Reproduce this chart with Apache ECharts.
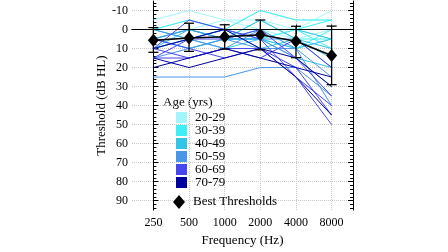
<!DOCTYPE html>
<html><head><meta charset="utf-8">
<script src="https://cdn.jsdelivr.net/npm/echarts@6/dist/echarts.min.js"></script>
<style>html,body{margin:0;padding:0;background:#fff}#c{width:448px;height:252px}</style>
</head><body><div id="c"></div>
<script>
const frequencies = ['250', '500', '1000', '2000', '4000', '8000'];
const ageGroups = ['20-29', '30-39', '40-49', '50-59', '60-69', '70-79'];
const age20 = [
  [-5, -10, -5, -5, 0, -10],
  [0, -5, 0, -10, -5, -5],
  [5, 0, 5, 0, 5, 0],
  [0, 5, 0, 5, 0, 5],
  [5, 0, -5, 0, 10, 5]
];
const age30 = [
  [0, -5, 0, -10, -5, -5],
  [5, 0, 5, 5, 10, 0],
  [10, 5, 0, 0, 0, 10],
  [0, 0, 5, -5, 5, 5],
  [5, 10, 5, 5, 0, -5]
];
const age40 = [
  [5, 0, 5, 0, 0, 5],
  [10, 5, 0, 10, 5, 15],
  [5, 10, 5, 5, 15, 20],
  [0, 5, 10, 5, 10, 5],
  [10, 0, 5, -5, 5, 10]
];
const age50 = [
  [25, 25, 25, 20, 20, 35],
  [10, 5, 10, 0, 10, 25],
  [5, 0, 5, 5, 15, 30],
  [15, 10, 5, 10, 10, 40],
  [0, 5, 0, 5, 5, 20]
];
const age60 = [
  [15, 15, 10, 10, 20, 45],
  [10, -5, 0, 5, 25, 50],
  [5, 10, 15, 10, 25, 40],
  [15, 5, 5, 0, 15, 35],
  [10, 15, 10, 15, 5, 20]
];
const age70 = [
  [20, 15, 10, 15, 20, 25],
  [10, 5, 0, 10, 15, 30],
  [15, 20, 15, 10, 25, 45]
];
const bestMean = [5.7, 4.5, 3.8, 2.8, 6.2, 13.7];
const bestLow = [-1, -3.3, -2.5, -5, -1.7, -1.8];
const bestHigh = [12, 11.5, 10.3, 10.7, 14.8, 29];
const yTickLabels = [-10, 0, 10, 20, 30, 40, 50, 60, 70, 80, 90];

const groupData = [age20, age30, age40, age50, age60, age70];
const groupColors = ['#a2f6fb', '#3ef0f5', '#33c4e8', '#4a96e6', '#4646f0', '#0000a0'];
const FONT = 'Liberation Serif';
const xIdx = frequencies.map((f, i) => i);
const yMinor = [];
for (let v = -14; v <= 94; v += 2) if (v % 10 !== 0) yMinor.push(v);

const series = [];
groupData.forEach((grp, g) => {
  grp.forEach(subj => {
    series.push({
      type: 'line', name: ageGroups[g], data: subj.map((v, i) => [i, v]),
      symbol: 'none', silent: true,
      lineStyle: { color: groupColors[g], width: 1 },
      itemStyle: { color: groupColors[g] },
      z: 2
    });
  });
});
series.push({
  type: 'custom', name: 'err', silent: true, z: 5,
  data: bestMean.map((m, i) => [i, bestLow[i], bestHigh[i]]),
  renderItem: function (params, api) {
    const x = api.coord([api.value(0), 0])[0];
    const y1 = api.coord([0, api.value(1)])[1];
    const y2 = api.coord([0, api.value(2)])[1];
    const st = { stroke: '#000', lineWidth: 1.3 };
    return { type: 'group', children: [
      { type: 'line', shape: { x1: x, y1: y1, x2: x, y2: y2 }, style: st },
      { type: 'line', shape: { x1: x - 5, y1: y1, x2: x + 5, y2: y1 }, style: st },
      { type: 'line', shape: { x1: x - 5, y1: y2, x2: x + 5, y2: y2 }, style: st }
    ]};
  }
});
series.push({
  type: 'line', name: 'Best Thresholds', data: bestMean.map((v, i) => [i, v]),
  symbol: 'diamond', symbolSize: [11, 13], z: 6,
  lineStyle: { color: '#000', width: 1.6 }, itemStyle: { color: '#000' },
  markLine: {
    silent: true, symbol: 'none', label: { show: false },
    lineStyle: { color: '#000', width: 1, type: 'solid' },
    data: [{ yAxis: 0 }]
  }
});

const axisLineStyle = { show: true, lineStyle: { color: '#000', width: 1 } };
const option = {
  backgroundColor: '#fff',
  animation: false,
  grid: { left: 132, right: 95, top: 1, bottom: 32 },
  xAxis: [
    { type: 'value', min: -0.6, max: 5.6, position: 'bottom',
      axisLine: axisLineStyle,
      axisTick: { show: true, inside: true, length: 5, customValues: xIdx, lineStyle: { color: '#000' } },
      axisLabel: { customValues: xIdx, formatter: v => frequencies[Math.round(v)], color: '#000', fontFamily: FONT, fontSize: 12, margin: 7 },
      splitLine: { show: true, lineStyle: { color: '#c8c8c8', type: 'dotted', width: 1 } },
      name: 'Frequency (Hz)', nameLocation: 'middle', nameGap: 18,
      nameTextStyle: { color: '#000', fontFamily: FONT, fontSize: 13 }
    },
    { type: 'value', min: -0.6, max: 5.6, position: 'top',
      axisLine: axisLineStyle,
      axisTick: { show: true, inside: true, length: 5, customValues: xIdx, lineStyle: { color: '#000' } },
      axisLabel: { show: false }, splitLine: { show: false }
    }
  ],
  yAxis: [
    { type: 'value', inverse: true, min: -15, max: 95, position: 'left',
      axisLine: axisLineStyle,
      axisTick: { show: true, inside: true, length: 5, customValues: yTickLabels, lineStyle: { color: '#000' } },
      axisLabel: { customValues: yTickLabels, color: '#000', fontFamily: FONT, fontSize: 12, margin: 4 },
      splitLine: { show: true, lineStyle: { color: '#c8c8c8', type: 'dotted', width: 1 } },
      name: 'Threshold (dB HL)', nameLocation: 'middle', nameGap: 23,
      nameTextStyle: { color: '#000', fontFamily: FONT, fontSize: 13 }
    },
    { type: 'value', inverse: true, min: -15, max: 95, position: 'left',
      axisLine: { show: false },
      axisTick: { show: true, inside: true, length: 3, customValues: yMinor, lineStyle: { color: '#000' } },
      axisLabel: { show: false }, splitLine: { show: false }
    },
    { type: 'value', inverse: true, min: -15, max: 95, position: 'right',
      axisLine: axisLineStyle,
      axisTick: { show: true, inside: true, length: 5, customValues: yTickLabels, lineStyle: { color: '#000' } },
      axisLabel: { show: false }, splitLine: { show: false }
    },
    { type: 'value', inverse: true, min: -15, max: 95, position: 'right',
      axisLine: { show: false },
      axisTick: { show: true, inside: true, length: 3, customValues: yMinor, lineStyle: { color: '#000' } },
      axisLabel: { show: false }, splitLine: { show: false }
    }
  ],
  legend: [
    { data: ageGroups, orient: 'vertical', left: 176, top: 111, padding: 0, itemWidth: 11, itemHeight: 11, itemGap: 0,
      icon: 'rect', selectedMode: false,
      textStyle: { color: '#000', fontFamily: FONT, fontSize: 13, lineHeight: 11, padding: [0, 0, 0, 3] } },
    { data: ['Best Thresholds'], orient: 'vertical', left: 173, top: 195, padding: 0, itemWidth: 12, itemHeight: 14,
      icon: 'diamond', selectedMode: false, itemStyle: { color: '#000' },
      textStyle: { color: '#000', fontFamily: FONT, fontSize: 13, lineHeight: 14, padding: [0, 0, 0, 3] } }
  ],
  graphic: [
    { type: 'text', left: 163, top: 96, style: { text: 'Age (yrs)', fill: '#000', font: '13px "Liberation Serif"' } }
  ],
  series: series
};
const chart = echarts.init(document.getElementById('c'), null, { renderer: 'canvas' });
chart.setOption(option);
</script>
</body></html>
